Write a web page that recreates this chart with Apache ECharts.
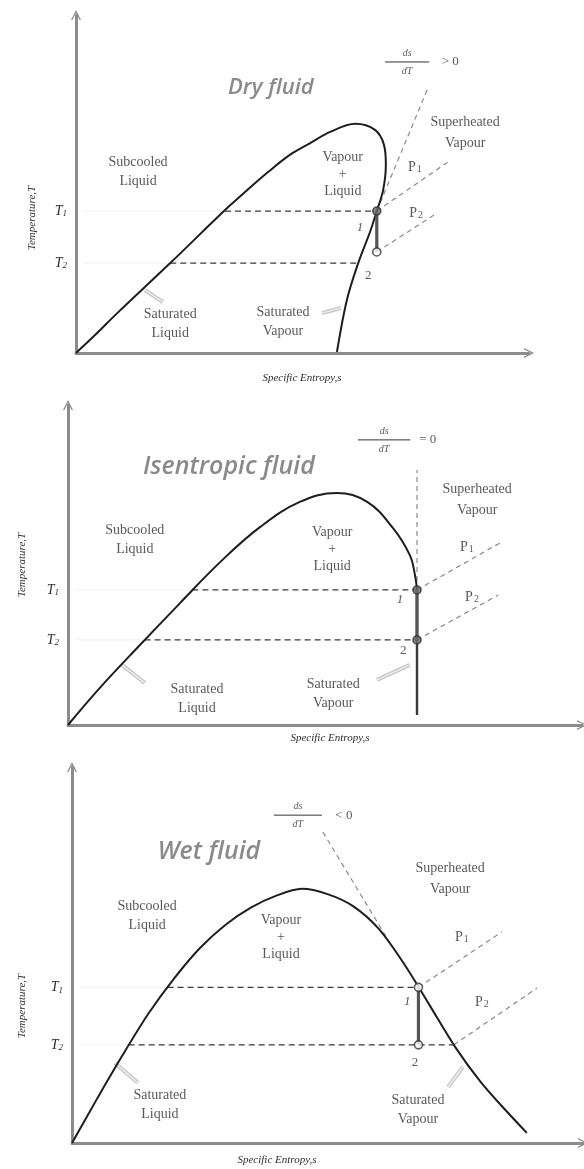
<!DOCTYPE html>
<html>
<head>
<meta charset="utf-8">
<title>T-s diagrams: dry, isentropic and wet working fluids</title>
<script src="https://cdn.jsdelivr.net/npm/echarts@6/dist/echarts.min.js"></script>
<style>
  html, body { margin: 0; padding: 0; background: #fff; }
  #chart { width: 584px; height: 1169px; }
</style>
</head>
<body>
<div id="chart"></div>
<script>
// ---- data (entropy s and temperature T in arbitrary units, 0..10 on each axis) ----

// temperature-axis tick labels for the two isotherms
const tempTickLabels = ['1', '2'];

// Dry fluid
const dryDome = [[0, 0], [0.42, 0.53], [0.91, 1.18], [2.08, 2.66], [3.29, 4.23], [3.73, 4.76],
  [4.22, 5.33], [4.72, 5.86], [5.17, 6.21], [5.61, 6.54], [6.16, 6.78], [6.60, 6.60],
  [6.80, 6.15], [6.84, 5.56], [6.78, 4.82], [6.64, 4.20], [6.49, 3.58], [6.23, 2.66],
  [5.98, 1.57], [5.76, 0.03]];
const dryTemps = [4.20, 2.66];
const dryStates = [[6.64, 4.20], [6.64, 2.99]];
const dryIsoFrom = [3.29, 2.08];
const dryIsoTo = [6.64, 6.23];
const drySlope = [[6.64, 4.20], [7.75, 7.78]];
const dryIsobar1 = [[6.64, 4.20], [8.21, 5.65]];
const dryIsobar2 = [[6.64, 2.99], [7.97, 4.14]];

// Isentropic fluid
const isoDome = [[0, 0], [0.62, 1.16], [1.40, 2.50], [2.18, 3.81], [2.96, 5.09], [3.74, 6.19],
  [4.51, 6.97], [5.23, 7.25], [5.82, 6.97], [6.32, 6.16], [6.65, 5.31], [6.75, 4.69], [6.79, 4.22]];
const isoVapourLine = [[6.79, 4.22], [6.79, 0.31]];
const isoTemps = [4.22, 2.66];
const isoStates = [[6.79, 4.22], [6.79, 2.66]];
const isoIsoFrom = [2.42, 1.49];
const isoIsoTo = [6.79, 6.79];
const isoSlope = [[6.79, 4.22], [6.79, 7.97]];
const isoIsobar1 = [[6.79, 4.22], [8.44, 5.72]];
const isoIsobar2 = [[6.79, 2.66], [8.37, 4.06]];

// Wet fluid
const wetDome = [[0, 0], [0.5, 1.20], [1.0, 2.36], [1.5, 3.45], [2.0, 4.38], [2.5, 5.18],
  [3.0, 5.80], [3.5, 6.26], [4.0, 6.58], [4.5, 6.76], [5.0, 6.62], [5.5, 6.30], [6.0, 5.70],
  [6.5, 4.76], [7.0, 3.66], [7.5, 2.55], [8.0, 1.62], [8.5, 0.85], [8.9, 0.27]];
const wetTemps = [4.14, 2.61];
const wetStates = [[6.78, 4.14], [6.78, 2.61]];
const wetIsoFrom = [1.87, 1.11];
const wetIsoTo = [6.78, 7.47];
const wetSlope = [[4.91, 8.27], [6.22, 5.32]];
const wetIsobar1 = [[6.78, 4.14], [8.41, 5.61]];
const wetIsobar2 = [[7.47, 2.61], [9.10, 4.12]];

// ---- styling ----
const SERIF = '"Liberation Serif", "DejaVu Serif", serif';
const SANS = '"Open Sans", "Noto Sans", sans-serif';
const INK = '#2e2e2e';
const AXIS_GREY = '#8c8c8c';
const ARROW = 'path://M0,12 L6,0 L12,12 L10.3,12 L6,3.2 L1.7,12 Z';

const panels = [
  {
    title: 'Dry fluid', sign: '> 0', dome: dryDome, temps: dryTemps, states: dryStates,
    isoFrom: dryIsoFrom, isoTo: dryIsoTo, slope: drySlope, isobars: [dryIsobar1, dryIsobar2],
    grid: { left: 76, top: 15, width: 453, height: 338 }, smooth: 0.35,
    at: {
      title: [4.30, 7.84], titleSize: 22, sub: [1.37, 5.36], mix: [5.89, 5.30], sup: [8.59, 6.51],
      satL: [2.08, 0.86], satV: [4.57, 0.92], n1: [6.27, 3.70], n2: [6.45, 2.28],
      p1: [7.48, 5.50], p2: [7.51, 4.14], frac: [7.31, 8.61], half: 0.49, signAt: [8.26, 8.61],
      ptrL: [[1.52, 1.86], [1.92, 1.51]], ptrV: [[5.43, 1.18], [5.85, 1.33]]
    },
    xName: [302, 378], yName: [32, 218], filled: [true, false]
  },
  {
    title: 'Isentropic fluid', sign: '= 0', dome: isoDome, temps: isoTemps, states: isoStates,
    isoFrom: isoIsoFrom, isoTo: isoIsoTo, slope: isoSlope, isobars: [isoIsobar1, isoIsobar2],
    extra: isoVapourLine, smooth: 0.4,
    grid: { left: 68, top: 405, width: 514, height: 320 },
    at: {
      title: [3.13, 8.06], titleSize: 25, sub: [1.30, 5.78], mix: [5.14, 5.50], sup: [7.96, 7.03],
      satL: [2.51, 0.81], satV: [5.16, 0.97], n1: [6.46, 3.91], n2: [6.52, 2.34],
      p1: [7.76, 5.56], p2: [7.86, 4.00], frac: [6.15, 8.91], half: 0.51, signAt: [7.00, 8.91],
      ptrL: [[1.05, 1.88], [1.50, 1.31]], ptrV: [[6.01, 1.41], [6.65, 1.88]]
    },
    xName: [330, 738], yName: [22, 565], filled: [true, true]
  },
  {
    title: 'Wet fluid', sign: '< 0', dome: wetDome, temps: wetTemps, states: wetStates,
    isoFrom: wetIsoFrom, isoTo: wetIsoTo, slope: wetSlope, isobars: [wetIsobar1, wetIsobar2],
    grid: { left: 72, top: 767, width: 511, height: 376 }, smooth: 0.3,
    at: {
      title: [2.68, 7.74], titleSize: 25, sub: [1.47, 6.04], mix: [4.09, 5.48], sup: [7.40, 7.02],
      satL: [1.72, 1.01], satV: [6.77, 0.88], n1: [6.56, 3.75], n2: [6.71, 2.13],
      p1: [7.63, 5.48], p2: [8.02, 3.75], frac: [4.42, 8.72], half: 0.47, signAt: [5.32, 8.72],
      ptrL: [[0.84, 2.13], [1.29, 1.60]], ptrV: [[7.36, 1.49], [7.65, 2.02]]
    },
    xName: [277, 1160], yName: [22, 1006], filled: [false, false]
  }
];

function lineSeries(i, data, lineStyle, extra) {
  return Object.assign({
    type: 'line', xAxisIndex: i, yAxisIndex: i, data: data, symbol: 'none',
    silent: true, animation: false, lineStyle: lineStyle
  }, extra || {});
}

function textSeries(i, items) {
  return {
    type: 'scatter', xAxisIndex: i, yAxisIndex: i, symbolSize: 0, silent: true, animation: false,
    z: 5,
    label: {
      show: true, position: 'inside', formatter: '{b}', color: INK,
      fontFamily: SERIF, fontSize: 14, lineHeight: 19
    },
    data: items
  };
}

const grids = [], xAxes = [], yAxes = [], series = [], graphics = [];

panels.forEach(function (p, i) {
  const a = p.at;
  grids.push(Object.assign({ outerBoundsMode: 'none', containLabel: false }, p.grid));

  xAxes.push({
    gridIndex: i, type: 'value', min: 0, max: 10,
    axisLine: { show: true, symbol: ['none', ARROW], symbolSize: [10, 12],
      lineStyle: { color: AXIS_GREY, width: 3 } },
    axisTick: { show: false }, axisLabel: { show: false }, splitLine: { show: false }
  });

  yAxes.push({
    gridIndex: i, type: 'value', min: 0, max: 10,
    axisLine: { show: true, symbol: ['none', ARROW], symbolSize: [10, 12],
      lineStyle: { color: AXIS_GREY, width: 3 } },
    axisTick: { show: false }, splitLine: { show: false },
    axisLabel: {
      show: true, margin: 9, customValues: p.temps.slice(),
      formatter: function (v) {
        const k = Math.abs(v - p.temps[0]) < 1e-6 ? 0 : 1;
        return '{t|T}{s|' + tempTickLabels[k] + '}';
      },
      rich: {
        t: { fontFamily: SERIF, fontStyle: 'italic', fontSize: 14, color: INK },
        s: { fontFamily: SERIF, fontStyle: 'italic', fontSize: 9, color: INK, verticalAlign: 'bottom', padding: [6, 0, 0, 0] }
      }
    }
  });

  // faint guide from the temperature axis to the liquid line, then the dashed isotherm
  p.temps.forEach(function (T, k) {
    series.push(lineSeries(i, [[0.15, T], [p.isoFrom[k], T]],
      { color: '#e2e2e2', width: 1, type: 'dotted' }));
    series.push(lineSeries(i, [[p.isoFrom[k], T], [p.isoTo[k], T]],
      { color: '#3a3a3a', width: 1.2, type: [6, 4] }));
  });

  // slope line ds/dT and the two isobars
  series.push(lineSeries(i, p.slope, { color: '#8a8a8a', width: 1.2, type: [5, 4] }));
  p.isobars.forEach(function (b) {
    series.push(lineSeries(i, b, { color: '#8a8a8a', width: 1.2, type: [5, 4] }));
  });

  // saturation dome
  series.push(lineSeries(i, p.dome, { color: '#1e1e1e', width: 2 }, { smooth: p.smooth, z: 3 }));
  if (p.extra) {
    series.push(lineSeries(i, p.extra, { color: '#3a3a3a', width: 2.4 }, { z: 3 }));
  }

  // expansion 1 -> 2
  series.push(lineSeries(i, p.states, { color: '#555', width: 3.2 }, { z: 4 }));
  series.push({
    type: 'scatter', xAxisIndex: i, yAxisIndex: i, silent: true, animation: false, z: 6,
    symbol: 'circle', symbolSize: 8,
    data: p.states.map(function (s, k) {
      return { value: s, itemStyle: { color: p.filled[k] ? '#6a6a6a' : '#fff', borderColor: '#333', borderWidth: 1.6 } };
    })
  });

  // pointer marks for the saturation labels
  [a.ptrL, a.ptrV].forEach(function (ptr) {
    series.push(lineSeries(i, ptr, { color: '#c6c6c6', width: 4 }, { z: 2 }));
    series.push(lineSeries(i, ptr, { color: '#ededed', width: 1.5 }, { z: 2 }));
  });

  // fraction bar for ds/dT
  series.push(lineSeries(i, [[a.frac[0] - a.half, a.frac[1]], [a.frac[0] + a.half, a.frac[1]]],
    { color: '#333', width: 1 }));

  const pRich = { p: { fontFamily: SERIF, fontSize: 14, color: INK }, s: { fontFamily: SERIF, fontSize: 10, color: INK, padding: [4, 0, 0, 1] } };
  series.push(textSeries(i, [
    { name: p.title, value: a.title, label: { fontFamily: SANS, fontStyle: 'italic', fontWeight: 600, fontSize: a.titleSize, color: '#6d6d6d' } },
    { name: 'Subcooled\nLiquid', value: a.sub },
    { name: 'Vapour\n+\nLiquid', value: a.mix, label: { lineHeight: 17 } },
    { name: 'Superheated\nVapour', value: a.sup, label: { lineHeight: 21 } },
    { name: 'Saturated\nLiquid', value: a.satL },
    { name: 'Saturated\nVapour', value: a.satV },
    { name: '1', value: a.n1, label: { fontStyle: 'italic', fontSize: 13 } },
    { name: '2', value: a.n2, label: { fontSize: 13 } },
    { name: 'P1', value: a.p1, label: { formatter: '{p|P}{s|1}', rich: pRich } },
    { name: 'P2', value: a.p2, label: { formatter: '{p|P}{s|2}', rich: pRich } },
    { name: 'ds\ndT', value: a.frac, label: { fontStyle: 'italic', fontSize: 10, lineHeight: 18 } },
    { name: p.sign, value: a.signAt, label: { fontSize: 13 } }
  ]));

  graphics.push({
    type: 'text', x: p.xName[0], y: p.xName[1], silent: true,
    style: { text: 'Specific Entropy,s', fill: INK, font: 'italic 11px ' + SERIF, align: 'center', verticalAlign: 'middle' }
  });
  graphics.push({
    type: 'text', x: p.yName[0], y: p.yName[1], rotation: Math.PI / 2, silent: true,
    style: { text: 'Temperature,T', fill: INK, font: 'italic 11px ' + SERIF, align: 'center', verticalAlign: 'middle' }
  });
});

const chart = echarts.init(document.getElementById('chart'), null, { renderer: 'canvas' });
chart.setOption({
  backgroundColor: '#ffffff',
  animation: false,
  grid: grids,
  xAxis: xAxes,
  yAxis: yAxes,
  series: series,
  graphic: graphics
});
</script>
</body>
</html>
